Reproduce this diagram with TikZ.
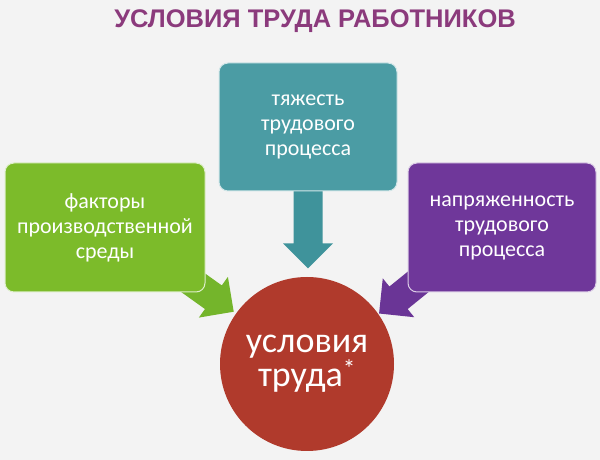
\documentclass[tikz,border=0pt]{standalone}
\usepackage{fontspec}
\setmainfont{Carlito}
\newfontfamily\titlefont{Liberation Sans}
\usetikzlibrary{calc}
\definecolor{bgc}{HTML}{F3F3F3}
\definecolor{titlec}{HTML}{8B3A7C}
\definecolor{tealbox}{HTML}{4B9CA4}
\definecolor{tealarr}{HTML}{3F939B}
\definecolor{greenbox}{HTML}{7CBB2A}
\definecolor{greenarr}{HTML}{74B52B}
\definecolor{purplebox}{HTML}{6F379A}
\definecolor{purplearr}{HTML}{6A3596}
\definecolor{redc}{HTML}{B03A2C}
\pgfdeclarelayer{back}
\pgfdeclarelayer{under}
\pgfsetlayers{back,under,main}
\tikzset{
  box/.style={rectangle, rounded corners=9pt, draw=white!75!#1, line width=1pt,
    fill=#1, text=white, align=center, inner sep=2pt,
    font=\fontsize{22}{25}\selectfont},
  pics/barrow/.style={code={
    \fill[pic actions] (0,0) -- (-25,25) -- (-25,14.5) -- (-#1,14.5)
      -- (-#1,-14.5) -- (-25,-14.5) -- (-25,-25) -- cycle;}}
}
\begin{document}
\begin{tikzpicture}[x=1pt,y=1pt]
\useasboundingbox (0,0) rectangle (600,460);
\begin{pgfonlayer}{back}
\fill[bgc] (0,0) rectangle (600,460);
\end{pgfonlayer}

\node[font=\titlefont\bfseries\fontsize{25.5}{28}\selectfont, text=titlec, anchor=base]
  (title) at (315,432) {УСЛОВИЯ ТРУДА РАБОТНИКОВ};

\node[box=tealbox, minimum width=178pt, minimum height=128pt] (top) at (308,333)
  {тяжесть\\трудового\\процесса};
\node[box=greenbox, minimum width=200pt, minimum height=129pt] (left) at (105,232.5)
  {факторы\\производственной\\среды};
\node[box=purplebox, minimum width=188pt, minimum height=129pt] (right) at (502,232.5)
  {напряженность\\трудового\\процесса};

\node[circle, fill=redc, minimum size=174pt, inner sep=0pt, text=white, align=center,
  font=\fontsize{36}{34}\selectfont] (circ) at (307,96) {условия\\труда\textsuperscript{*}};

\begin{pgfonlayer}{under}
\coordinate (tipT) at ($(top.south)+(0,-77)$);
\coordinate (tipL) at ($(circ.center)+(144.5:90)$);
\coordinate (tipR) at ($(circ.center)+(35:88)$);
\pic[fill=tealarr, rotate=-90] at (tipT) {barrow=80};
\pic[fill=greenarr, rotate=-35.5] at (tipL) {barrow=75};
\pic[fill=purplearr, rotate=219] at (tipR) {barrow=70};
\end{pgfonlayer}
\end{tikzpicture}
\end{document}
